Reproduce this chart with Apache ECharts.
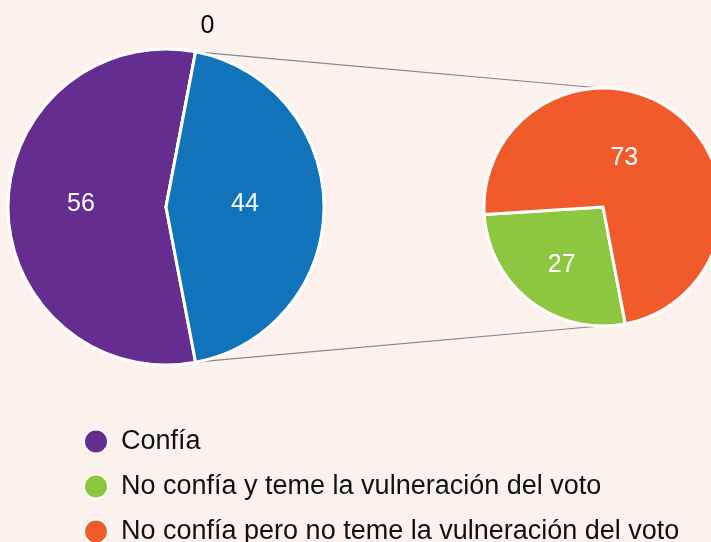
<!DOCTYPE html>
<html>
<head>
<meta charset="utf-8">
<script src="https://cdn.jsdelivr.net/npm/echarts@6/dist/echarts.min.js"></script>
<style>
  html, body { margin: 0; padding: 0; background: #fcf1ec; }
  #chart { width: 711px; height: 542px; }
</style>
</head>
<body>
<div id="chart"></div>
<script>
// main pie: Confía vs No confía (the zero item only carries the "0" label at the top)
const mainNames = ['Confía', 'Cero', 'No confía'];
const mainValues = [56, 0, 44];
const mainColors = ['#662d91', '#1173ba', '#1173ba'];

// detail pie: breakdown of "No confía"
const detailNames = [
  'No confía y teme la vulneración del voto',
  'No confía pero no teme la vulneración del voto'
];
const detailValues = [27, 73];
const detailColors = ['#8dc63f', '#f15a2b'];
// small nudges so labels sit where the original put them
const detailLabelOffsets = [[-3, 9], [-17, 0]];

const legendNames = [mainNames[0], detailNames[0], detailNames[1]];

// layout
const MAIN_CENTER = [166, 207];
const MAIN_R = 158;
const DETAIL_CENTER = [603, 207];
const DETAIL_R = 119;

const chart = echarts.init(document.getElementById('chart'));

// the "No confía" slice is centred on the right side of the main pie
const mainTotal = mainValues.reduce((a, b) => a + b, 0);
const halfAngle = mainValues[2] / mainTotal * 180;
const startAngle = 360 - halfAngle;

// connector lines from the edges of the "No confía" slice to the detail pie
const rad = halfAngle * Math.PI / 180;
const edgeX = MAIN_CENTER[0] + MAIN_R * Math.cos(rad);
const edgeDy = MAIN_R * Math.sin(rad);
const connectors = [
  [edgeX, MAIN_CENTER[1] - edgeDy, DETAIL_CENTER[0] - 3, DETAIL_CENTER[1] - DETAIL_R],
  [edgeX, MAIN_CENTER[1] + edgeDy, DETAIL_CENTER[0] - 3, DETAIL_CENTER[1] + DETAIL_R]
].map(([x1, y1, x2, y2]) => ({
  type: 'line',
  shape: {x1, y1, x2, y2},
  style: {stroke: '#858585', lineWidth: 1.2}
}));

const sliceStyle = {borderColor: '#ffffff', borderWidth: 3};
const labelStyle = {
  show: true,
  position: 'inside',
  formatter: '{c}',
  color: '#ffffff',
  fontSize: 25,
  fontFamily: 'Arial'
};

chart.setOption({
  backgroundColor: '#fcf1ec',
  animation: false,
  graphic: connectors,
  legend: {
    data: legendNames,
    orient: 'vertical',
    left: 83,
    top: 428,
    height: 160,
    padding: 0,
    icon: 'circle',
    itemWidth: 24,
    itemHeight: 24,
    itemGap: 18,
    textStyle: {
      fontSize: 27,
      fontFamily: 'Arial',
      color: '#111111',
      padding: [0, 0, 0, 8]
    },
    selectedMode: false
  },
  series: [
    {
      type: 'pie',
      center: MAIN_CENTER,
      radius: MAIN_R,
      startAngle: startAngle,
      clockwise: true,
      itemStyle: sliceStyle,
      label: Object.assign({}, labelStyle, {offset: [-3, -3]}),
      labelLine: {show: false},
      emphasis: {disabled: true},
      data: mainValues.map((v, i) => {
        const item = {name: mainNames[i], value: v, itemStyle: {color: mainColors[i]}};
        if (v === 0) {
          item.label = {position: 'outside', color: '#000000', distanceToLabelLine: 0, offset: [0, 0]};
          item.labelLine = {show: false, length: 26, length2: 0};
        }
        return item;
      })
    },
    {
      type: 'pie',
      center: DETAIL_CENTER,
      radius: DETAIL_R,
      startAngle: startAngle,
      clockwise: true,
      itemStyle: sliceStyle,
      label: labelStyle,
      labelLine: {show: false},
      emphasis: {disabled: true},
      data: detailValues.map((v, i) => ({
        name: detailNames[i],
        value: v,
        itemStyle: {color: detailColors[i]},
        label: {offset: detailLabelOffsets[i]}
      }))
    }
  ]
});
</script>
</body>
</html>
